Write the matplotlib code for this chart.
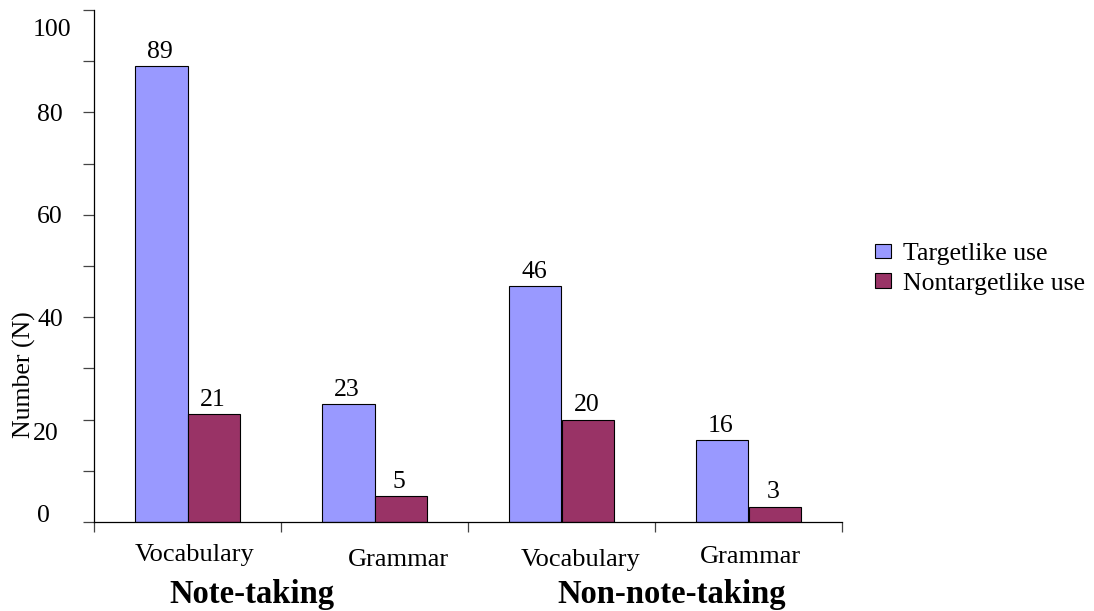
import matplotlib
matplotlib.use("Agg")
import matplotlib.pyplot as plt
import matplotlib.transforms as mtransforms
from matplotlib.patches import Patch

categories = ["Vocabulary", "Grammar", "Vocabulary", "Grammar"]
groups = ["Note-taking", "Non-note-taking"]
targetlike = [89, 23, 46, 16]
nontargetlike = [21, 5, 20, 3]
series_names = ["Targetlike use", "Nontargetlike use"]
ytick_values = [0, 20, 40, 60, 80, 100]

plt.rcParams['font.family'] = ['Liberation Serif', 'DejaVu Serif']

fig = plt.figure(figsize=(10.94, 6.11), dpi=100)
ax = fig.add_axes([94/1094, 1-522/611, 748/1094, 512/611])

blue = "#9999FF"
red = "#993366"
w = 0.28
x = list(range(len(categories)))
b1 = ax.bar([i - w/2 for i in x], targetlike, width=w, color=blue, edgecolor="black", linewidth=0.8)
b2 = ax.bar([i + w/2 for i in x], nontargetlike, width=w, color=red, edgecolor="black", linewidth=0.8)

for bars, vals in ((b1, targetlike), (b2, nontargetlike)):
    for r, v in zip(bars, vals):
        ax.annotate(str(v), (r.get_x() + r.get_width()/2, r.get_height()),
                    xytext=(-1, 2.5), textcoords="offset points",
                    ha="center", va="bottom", fontsize=18.5)

ax.set_xlim(-0.5, len(categories) - 0.5)
ax.set_ylim(0, 100)
ax.spines['top'].set_visible(False)
ax.spines['right'].set_visible(False)
ax.spines['left'].set_linewidth(0.9)
ax.spines['bottom'].set_linewidth(0.9)

ax.set_yticks(list(range(0, 101, 10)))
ax.set_yticklabels([str(v) if v in ytick_values else "" for v in range(0, 101, 10)], fontsize=18.5)
ax.tick_params(axis='y', direction='out', length=8, width=0.9, pad=14.5, color="#444444")
# quirky label offsets as in the reference (dx, dy in pixels)
offsets_px = {0: (-13, 9), 20: (-4, -12), 100: (9, -17)}
for v, lab in zip(range(0, 101, 10), ax.get_yticklabels()):
    if v in offsets_px:
        dx, dy = offsets_px[v]
        lab.set_transform(lab.get_transform() + mtransforms.ScaledTranslation(dx/100, dy/100, fig.dpi_scale_trans))

ax.set_xticks([i - 0.5 for i in range(len(categories) + 1)])
ax.set_xticklabels([])
ax.tick_params(axis='x', direction='out', length=7, width=0.9, color="#444444")

ax.set_ylabel("Number (N)", fontsize=18.5)
ax.yaxis.set_label_coords(-0.078, 0.287)

# category labels
cat_dx = [0.04, 0.126, 0.104, 0.008]
cat_py = [555, 560, 560, 557]
for i, (c, dx, py) in enumerate(zip(categories, cat_dx, cat_py)):
    ax.text(i + dx, (522 - py)/512, c, transform=ax.get_xaxis_transform(),
            ha="center", va="center", fontsize=19)

group_px = [252, 672]
for g, px in zip(groups, group_px):
    fig.text(px/1094, 1 - 594/611, g, ha="center", va="center", fontsize=23.5, fontweight="bold")

handles = [Patch(facecolor=blue, edgecolor="black", linewidth=0.8),
           Patch(facecolor=red, edgecolor="black", linewidth=0.8)]
fig.legend(handles, series_names, loc="center left", bbox_to_anchor=(852/1094, 1 - 269/611),
           frameon=False, fontsize=18.5, handlelength=0.6, handleheight=0.5,
           handletextpad=0.5, labelspacing=0.3)

fig.savefig("out.png", dpi=100)
